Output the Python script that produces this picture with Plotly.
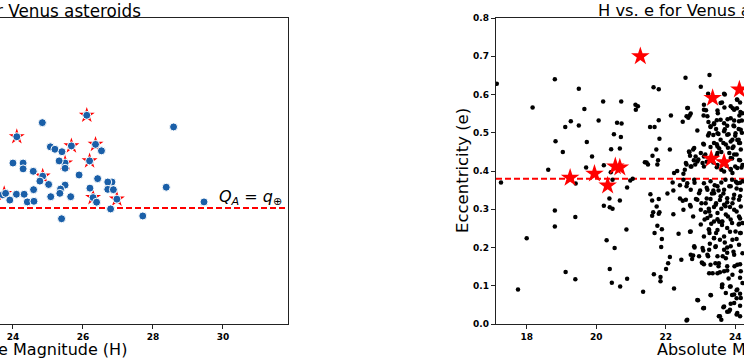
import plotly.graph_objects as go

# ---------------- Left panel data (H vs Q_A) ----------------
left_H = [26.11, 24.84, 28.59, 24.11, 25.07, 25.20, 25.40, 25.67, 26.36, 26.53,
          24.00, 24.29, 24.29, 24.58, 25.49, 25.32, 26.19, 25.49, 25.89, 24.85,
          24.77, 25.02, 26.42, 26.83, 26.71, 24.59, 25.49, 25.36, 25.34, 25.65,
          26.20, 26.71, 26.87, 25.08, 23.71, 23.79, 23.91, 24.10, 24.32, 24.41,
          24.60, 26.29, 26.39, 26.97, 26.79, 25.39, 27.71, 28.38, 29.46]
left_Q = [1.286, 1.262, 1.248, 1.216, 1.183, 1.175, 1.167, 1.186, 1.191, 1.170,
          1.130, 1.130, 1.111, 1.103, 1.130, 1.137, 1.137, 1.113, 1.091, 1.087,
          1.071, 1.060, 1.079, 1.068, 1.068, 1.043, 1.058, 1.045, 1.031, 1.020,
          1.048, 1.044, 1.043, 1.020, 1.026, 1.031, 1.009, 1.028, 1.028, 1.003,
          1.005, 1.017, 1.002, 1.012, 0.980, 0.948, 0.957, 1.051, 1.003]
left_star_H = [26.11, 24.11, 25.67, 26.36, 25.49, 26.19, 24.85, 26.29, 26.97, 23.75]
left_star_Q = [1.286, 1.216, 1.186, 1.191, 1.130, 1.137, 1.087, 1.017, 1.012, 1.030]
q_earth = 0.983

# ---------------- Right panel data (H vs e) ----------------
right_H = [
    17.14, 18.81, 19.50, 18.17, 19.66, 20.20, 20.72, 21.13, 21.20, 21.14, 19.27, 19.11, 19.50,
    20.07, 20.60, 20.73, 20.51, 20.71, 18.83, 19.73, 19.04, 19.88, 20.43, 20.68, 19.71, 20.22,
    18.62, 21.40, 17.26, 19.41, 20.42, 20.47, 20.98, 21.05, 20.89, 20.38, 20.68, 20.22, 20.39,
    20.47, 18.81, 19.40, 18.81, 20.87, 18.00, 20.30, 20.53, 19.12, 20.39, 19.40, 20.89, 20.45,
    20.69, 21.35, 17.75,
    22.57, 23.26, 21.65, 21.80, 23.01, 23.22, 23.70, 24.05, 24.14, 23.10, 23.62, 23.16, 22.62,
    23.69, 23.93, 24.05, 23.50, 24.15, 24.12, 22.69, 22.65, 22.15, 23.09, 21.80, 22.49, 23.47,
    23.78, 23.97, 24.19, 23.23,
    21.55, 21.68, 23.29, 23.39, 23.45, 23.70, 23.77, 23.95, 24.10, 24.19, 23.52, 23.81, 24.00,
    24.06, 23.22, 23.37, 21.82, 21.73, 22.12, 21.62, 21.78, 21.76, 21.45, 21.49,
    22.68, 22.70, 22.79, 23.08, 23.14, 23.29, 23.47, 23.54, 23.66, 23.79, 23.87, 23.95, 24.10,
    24.14, 22.81, 22.94, 23.06, 23.18, 22.85, 22.60, 22.55, 22.33, 22.24, 22.51, 22.74,
    23.47, 23.60, 23.83, 23.91, 24.04, 24.14, 24.00, 24.18, 23.87, 23.60, 23.47, 23.37, 23.75,
    22.20, 22.51, 22.41, 22.60, 22.83, 22.99, 23.18, 23.41, 23.60, 23.72, 23.91, 24.02, 24.14,
    22.05, 22.22, 22.41, 22.49, 21.80, 21.61, 21.74, 21.64, 21.80, 21.61, 22.22, 22.51, 22.70,
    22.79, 22.87, 23.03, 23.18, 23.33, 23.52, 23.66, 23.83, 24.04, 24.14, 23.95, 23.77, 23.56,
    23.39, 23.24, 23.60, 23.85, 24.04, 24.14, 23.79, 23.49, 23.29, 23.14, 23.12, 23.62, 23.91,
    24.12, 23.37, 23.29, 23.45, 23.72, 21.56, 21.82,
    21.76, 21.89, 21.68, 21.89, 21.87, 22.12, 22.07, 22.01, 21.66, 21.85, 21.85, 22.24, 22.37,
    22.70, 22.45, 22.76, 22.83, 22.79, 23.08, 23.04, 23.10, 23.22, 23.26, 23.24, 23.31, 23.54,
    23.62, 23.45, 23.39, 23.56, 23.27, 23.43, 23.70, 23.77, 23.85, 24.10, 24.14, 24.04, 23.95,
    23.77, 23.64, 23.43, 23.52, 23.35, 23.56, 23.77, 23.98, 24.14, 23.81, 24.14, 23.62, 23.85,
    24.04, 24.14, 23.91, 24.04, 24.14, 23.87, 23.66, 23.85, 24.04, 23.77, 23.56, 23.60, 23.29,
    22.93, 23.08, 22.60, 24.14, 23.10, 23.30, 23.62,
    23.68, 24.06, 23.58, 23.87, 22.64, 23.10, 23.49, 23.97, 24.21, 22.60, 22.72, 23.20, 23.58,
    23.87, 24.11, 23.39, 23.68, 23.97, 23.29, 22.91, 23.68, 23.49, 23.77, 24.01, 24.16, 23.25,
    23.58, 23.92, 24.11, 23.39, 23.10, 22.82, 22.67, 23.01, 22.86, 23.49, 23.73, 23.92, 24.16,
    23.97, 24.11, 23.87, 23.49, 23.10, 22.58, 22.72, 22.91, 23.10, 23.49, 23.87, 24.06, 24.21,
    23.92, 23.68,
    22.62, 22.82, 23.10, 23.29, 23.49, 23.68, 23.87, 24.06, 24.21, 22.72, 22.96, 23.20, 23.39,
    23.58, 23.77, 23.97, 24.16, 22.58, 22.91, 23.15, 23.44, 23.68, 23.92, 24.11, 22.72, 23.01,
    23.25, 23.49, 23.73, 23.97, 24.16, 23.20, 23.39, 23.63, 23.87, 24.11, 24.21, 22.72, 23.01,
    23.25, 23.49, 23.77, 24.01, 24.16, 23.10, 23.39, 23.68, 23.92,
    22.82, 23.06, 23.25, 23.44, 23.68, 23.87, 24.11, 22.72, 22.96, 23.20, 23.49, 23.73, 23.97,
    24.21, 23.06, 23.29, 23.53, 23.77, 24.06, 23.25, 23.49, 23.68, 23.92, 24.16, 23.63, 23.87,
    24.06, 24.21, 23.73, 23.97, 22.91, 23.10, 23.68, 23.82, 24.06, 23.53, 22.62, 23.97, 24.16,
]
right_e = [
    0.628, 0.640, 0.615, 0.566, 0.562, 0.582, 0.582, 0.573, 0.569, 0.560, 0.530, 0.515, 0.519,
    0.532, 0.526, 0.524, 0.496, 0.489, 0.478, 0.476, 0.450, 0.438, 0.457, 0.459, 0.409, 0.415,
    0.403, 0.423, 0.370, 0.367, 0.397, 0.377, 0.375, 0.380, 0.357, 0.328, 0.323, 0.309, 0.305,
    0.301, 0.297, 0.280, 0.255, 0.247, 0.224, 0.219, 0.199, 0.136, 0.144, 0.117, 0.118, 0.108,
    0.098, 0.084, 0.090,
    0.644, 0.651, 0.619, 0.614, 0.620, 0.602, 0.600, 0.587, 0.579, 0.573, 0.579, 0.559, 0.565,
    0.566, 0.564, 0.564, 0.551, 0.554, 0.545, 0.545, 0.539, 0.545, 0.545, 0.533, 0.529, 0.533,
    0.535, 0.532, 0.532, 0.528,
    0.515, 0.515, 0.515, 0.522, 0.510, 0.509, 0.518, 0.519, 0.510, 0.500, 0.497, 0.496, 0.492,
    0.481, 0.493, 0.494, 0.484, 0.456, 0.456, 0.440, 0.428, 0.417, 0.422, 0.417,
    0.449, 0.440, 0.456, 0.471, 0.443, 0.463, 0.470, 0.459, 0.473, 0.461, 0.477, 0.464, 0.482,
    0.473, 0.428, 0.430, 0.421, 0.424, 0.417, 0.417, 0.403, 0.400, 0.395, 0.393, 0.412,
    0.441, 0.450, 0.447, 0.433, 0.443, 0.428, 0.412, 0.409, 0.405, 0.403, 0.410, 0.422, 0.414,
    0.370, 0.377, 0.363, 0.360, 0.369, 0.349, 0.356, 0.363, 0.370, 0.377, 0.377, 0.372, 0.369,
    0.341, 0.349, 0.328, 0.322, 0.327, 0.323, 0.307, 0.292, 0.288, 0.283, 0.287, 0.299, 0.311,
    0.281, 0.327, 0.316, 0.328, 0.341, 0.349, 0.341, 0.360, 0.354, 0.334, 0.328, 0.318, 0.324,
    0.306, 0.301, 0.301, 0.306, 0.294, 0.276, 0.281, 0.274, 0.283, 0.292, 0.273, 0.267, 0.264,
    0.262, 0.349, 0.327, 0.316, 0.308, 0.339, 0.292,
    0.257, 0.248, 0.238, 0.222, 0.201, 0.175, 0.159, 0.144, 0.130, 0.123, 0.112, 0.093, 0.236,
    0.241, 0.168, 0.170, 0.200, 0.179, 0.192, 0.161, 0.156, 0.177, 0.238, 0.248, 0.262, 0.267,
    0.259, 0.238, 0.224, 0.220, 0.210, 0.201, 0.213, 0.200, 0.241, 0.260, 0.238, 0.222, 0.189,
    0.186, 0.177, 0.159, 0.151, 0.133, 0.135, 0.140, 0.151, 0.156, 0.119, 0.121, 0.102, 0.098,
    0.088, 0.079, 0.076, 0.067, 0.048, 0.053, 0.044, 0.037, 0.025, 0.032, 0.020, 0.011, 0.076,
    0.062, 0.041, 0.009, 0.020, 0.042, 0.075, 0.096,
    0.602, 0.586, 0.578, 0.569, 0.565, 0.560, 0.558, 0.560, 0.551, 0.543, 0.550, 0.543, 0.534,
    0.538, 0.530, 0.525, 0.525, 0.517, 0.517, 0.506, 0.504, 0.499, 0.495, 0.499, 0.508, 0.499,
    0.482, 0.482, 0.473, 0.473, 0.469, 0.460, 0.451, 0.447, 0.438, 0.464, 0.469, 0.460, 0.456,
    0.443, 0.429, 0.434, 0.447, 0.438, 0.421, 0.412, 0.425, 0.412, 0.416, 0.403, 0.408, 0.416,
    0.395, 0.399,
    0.368, 0.377, 0.368, 0.373, 0.360, 0.351, 0.360, 0.368, 0.373, 0.351, 0.342, 0.351, 0.342,
    0.334, 0.329, 0.338, 0.351, 0.325, 0.325, 0.316, 0.312, 0.312, 0.316, 0.325, 0.307, 0.299,
    0.294, 0.290, 0.286, 0.299, 0.307, 0.277, 0.268, 0.268, 0.273, 0.281, 0.264, 0.242, 0.260,
    0.246, 0.246, 0.251, 0.242, 0.238, 0.229, 0.225, 0.229, 0.220,
    0.203, 0.199, 0.194, 0.203, 0.194, 0.203, 0.207, 0.181, 0.177, 0.181, 0.177, 0.172, 0.181,
    0.185, 0.159, 0.155, 0.159, 0.151, 0.155, 0.133, 0.133, 0.138, 0.129, 0.138, 0.103, 0.098,
    0.090, 0.107, 0.081, 0.077, 0.063, 0.042, 0.046, 0.033, 0.029, 0.020, 0.011, 0.055, 0.068,
]
right_star_H = [21.27, 20.55, 20.68, 19.95, 19.25, 20.33, 23.35, 24.12, 23.31, 23.68]
right_star_e = [0.700, 0.412, 0.409, 0.393, 0.382, 0.362, 0.591, 0.613, 0.432, 0.423]
e_line = 0.38

left_title = "H vs. Q for Venus asteroids"
right_title = "H vs. e for Venus asteroids"
x_label = "Absolute Magnitude (H)"
right_y_label = "Eccentricity (e)"
line_label = "<i>Q</i><sub><i>A</i></sub> = <i>q</i><sub>⊕</sub>"

left_xticks = [24, 26, 28, 30]
right_xticks = [18, 20, 22, 24]
right_yticks = [0.0, 0.1, 0.2, 0.3, 0.4, 0.5, 0.6, 0.7, 0.8]

W, H = 744, 360
FONT = "DejaVu Sans"

fig = go.Figure()

fig.add_trace(go.Scatter(x=left_star_H, y=left_star_Q, mode="markers", xaxis="x", yaxis="y",
                         marker=dict(symbol="star", size=12, color="red", line=dict(width=0)),
                         showlegend=False))
fig.add_trace(go.Scatter(x=left_H, y=left_Q, mode="markers", xaxis="x", yaxis="y",
                         marker=dict(symbol="circle", size=8, color="#1a5fa8",
                                     line=dict(color="white", width=1)),
                         showlegend=False))
fig.add_trace(go.Scatter(x=right_H, y=right_e, mode="markers", xaxis="x2", yaxis="y2",
                         marker=dict(symbol="circle", size=4.5, color="black", line=dict(width=0)),
                         showlegend=False))
fig.add_trace(go.Scatter(x=right_star_H, y=right_star_e, mode="markers", xaxis="x2", yaxis="y2",
                         marker=dict(symbol="star", size=14, color="red", line=dict(width=0)),
                         showlegend=False))

line_style = dict(color="red", width=2, dash="6px,3px")
fig.add_shape(type="line", xref="x domain", yref="y", x0=0, x1=1, y0=q_earth, y1=q_earth,
              line=line_style, layer="below")
fig.add_shape(type="line", xref="x2 domain", yref="y2", x0=0, x1=1, y0=e_line, y1=e_line,
              line=line_style, layer="below")

tickfont = dict(family=FONT, size=9, color="black", weight="bold")
axis_common = dict(showgrid=False, zeroline=False, showline=True, linecolor="#222",
                   linewidth=1.2, ticks="outside", ticklen=4, tickwidth=1, tickcolor="#222",
                   tickfont=tickfont, automargin=False)

ydom = [1 - 324 / H, 1 - 18 / H]
fig.update_layout(
    width=W, height=H,
    margin=dict(l=0, r=0, t=0, b=0, pad=0),
    paper_bgcolor="white", plot_bgcolor="white",
    hovermode=False,
    xaxis=dict(domain=[0, 288 / W], range=[23.63, 31.86], tickvals=left_xticks,
               mirror=True, anchor="y", **axis_common),
    yaxis=dict(domain=ydom, range=[0.604, 1.604], side="right", showticklabels=False,
               anchor="x", showgrid=False, zeroline=False, showline=True,
               linecolor="#222", linewidth=1.2, ticks="", automargin=False),
    xaxis2=dict(domain=[496 / W, 1], range=[17.117, 24.253], tickvals=right_xticks,
                mirror=True, anchor="y2", **axis_common),
    yaxis2=dict(domain=ydom, range=[0, 0.8], tickvals=right_yticks, tickformat=".1f",
                anchor="x2", **axis_common),
)

annots = [
    dict(text=left_title, x=142 / W, y=1.0, xanchor="right", yanchor="top",
         font=dict(family=FONT, size=16.8, color="black")),
    dict(text=right_title, x=597 / W, y=1.0, xanchor="left", yanchor="top",
         font=dict(family=FONT, size=16.3, color="black")),
    dict(text=x_label, x=128 / W, y=0.0, xanchor="right", yanchor="bottom",
         font=dict(family=FONT, size=16, color="black")),
    dict(text=x_label, x=656 / W, y=0.0, xanchor="left", yanchor="bottom",
         font=dict(family=FONT, size=16, color="black")),
    dict(text=right_y_label, x=462 / W, y=1 - 171 / H, xanchor="center", yanchor="middle",
         textangle=-90, font=dict(family=FONT, size=16.5, color="black")),
    dict(text=line_label, x=283 / W, y=1 - 209 / H, xanchor="right", yanchor="bottom",
         font=dict(family=FONT, size=16, color="black")),
]
for a in annots:
    a.update(xref="paper", yref="paper", showarrow=False, borderpad=0)
fig.update_layout(annotations=annots)

fig.write_html("out.html",
               config={"displayModeBar": False, "staticPlot": True},
               post_script="document.body.style.margin='0px';document.body.style.overflow='hidden';")
